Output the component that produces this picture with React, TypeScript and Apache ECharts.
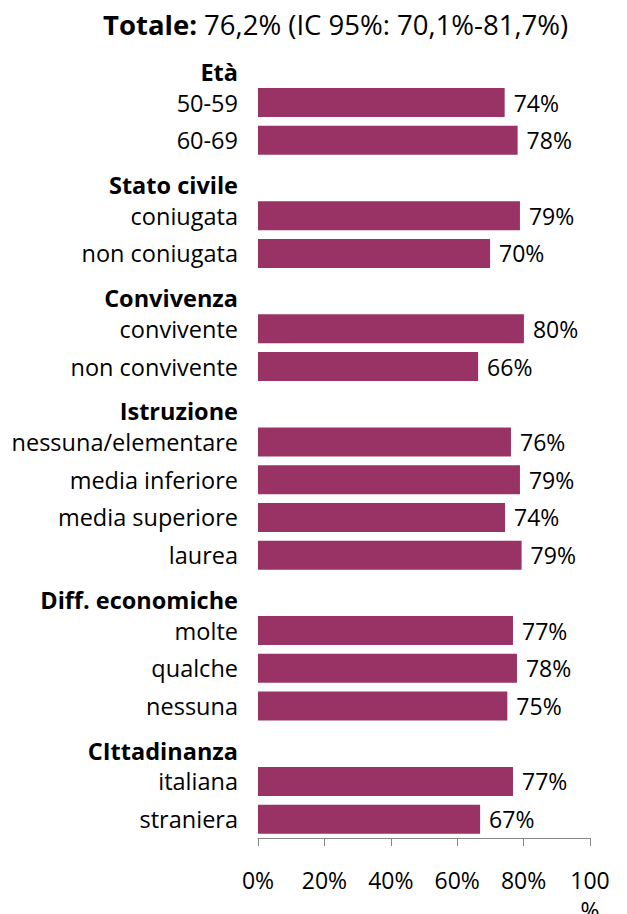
import React, { useEffect, useRef } from "react";
import * as echarts from "echarts";

const groups = ["Età", "Stato civile", "Convivenza", "Istruzione", "Diff. economiche", "CIttadinanza"];
const subcategories = [
  ["50-59", "60-69"],
  ["coniugata", "non coniugata"],
  ["convivente", "non convivente"],
  ["nessuna/elementare", "media inferiore", "media superiore", "laurea"],
  ["molte", "qualche", "nessuna"],
  ["italiana", "straniera"],
];
const values = [
  [74.3, 78.2],
  [78.9, 69.9],
  [80.1, 66.3],
  [76.2, 78.9, 74.4, 79.4],
  [76.8, 78.0, 75.1],
  [76.8, 66.9],
];
const xTicks = [0, 20, 40, 60, 80, 100];
const titleBold = "Totale:";
const titleRest = " 76,2% (IC 95%: 70,1%-81,7%)";

const FONT = "Open Sans";
const FS = 23.5;

export default function App() {
  const ref = useRef<HTMLDivElement>(null);
  useEffect(() => {
    document.body.style.margin = "0";
    const chart = echarts.init(ref.current!, null, { renderer: "svg" });
    const cats: string[] = [];
    const data: any[] = [];
    const isHeader: boolean[] = [];
    groups.forEach((g, gi) => {
      cats.push(g);
      data.push(null);
      isHeader.push(true);
      subcategories[gi].forEach((s, si) => {
        cats.push(s);
        data.push(values[gi][si]);
        isHeader.push(false);
      });
    });
    chart.setOption({
      animation: false,
      title: {
        text: `{b|${titleBold}}{r|${titleRest}}`,
        left: 98,
        top: 5,
        textStyle: {
          fontWeight: "normal",
          rich: {
            b: { fontFamily: FONT, fontSize: 27.5, fontWeight: "bold", color: "#000" },
            r: { fontFamily: FONT, fontSize: 27.5, fontWeight: "normal", color: "#000" },
          },
        },
      },
      grid: {
        left: 258,
        right: 37,
        top: 46,
        bottom: 76,
        containLabel: false,
        outerBoundsMode: "none",
      },
      xAxis: {
        type: "value",
        min: 0,
        max: 100,
        interval: 20,
        splitLine: { show: false },
        axisLine: { show: true, lineStyle: { color: "#868686", width: 1 } },
        axisTick: { show: true, length: 8, inside: false, lineStyle: { color: "#868686" } },
        axisLabel: {
          margin: 27,
          fontFamily: FONT,
          fontSize: 23,
          color: "#000",
          lineHeight: 30,
          formatter: (v: number) => (xTicks.includes(v) ? (v === 100 ? "100\n%" : v + "%") : ""),
        },
      },
      yAxis: {
        type: "category",
        inverse: true,
        data: cats,
        axisLine: { show: false },
        axisTick: { show: false },
        axisLabel: {
          margin: 20,
          interval: 0,
          fontFamily: FONT,
          fontSize: FS,
          color: "#000",
          formatter: (v: string, i: number) => (isHeader[i] ? `{h|${v}}` : v),
          rich: {
            h: { fontFamily: FONT, fontSize: FS, fontWeight: "bold", color: "#000", padding: [14, 0, 0, 0] },
          },
        },
      },
      series: [
        {
          type: "bar",
          data,
          barWidth: 29,
          itemStyle: { color: "#993366" },
          label: {
            show: true,
            position: "right",
            distance: 9,
            fontFamily: FONT,
            fontSize: 23,
            color: "#000",
            formatter: (p: any) => Math.round(p.value) + "%",
          },
        },
      ],
    });
    return () => chart.dispose();
  }, []);
  return <div ref={ref} style={{ width: 627, height: 914 }} />;
}
